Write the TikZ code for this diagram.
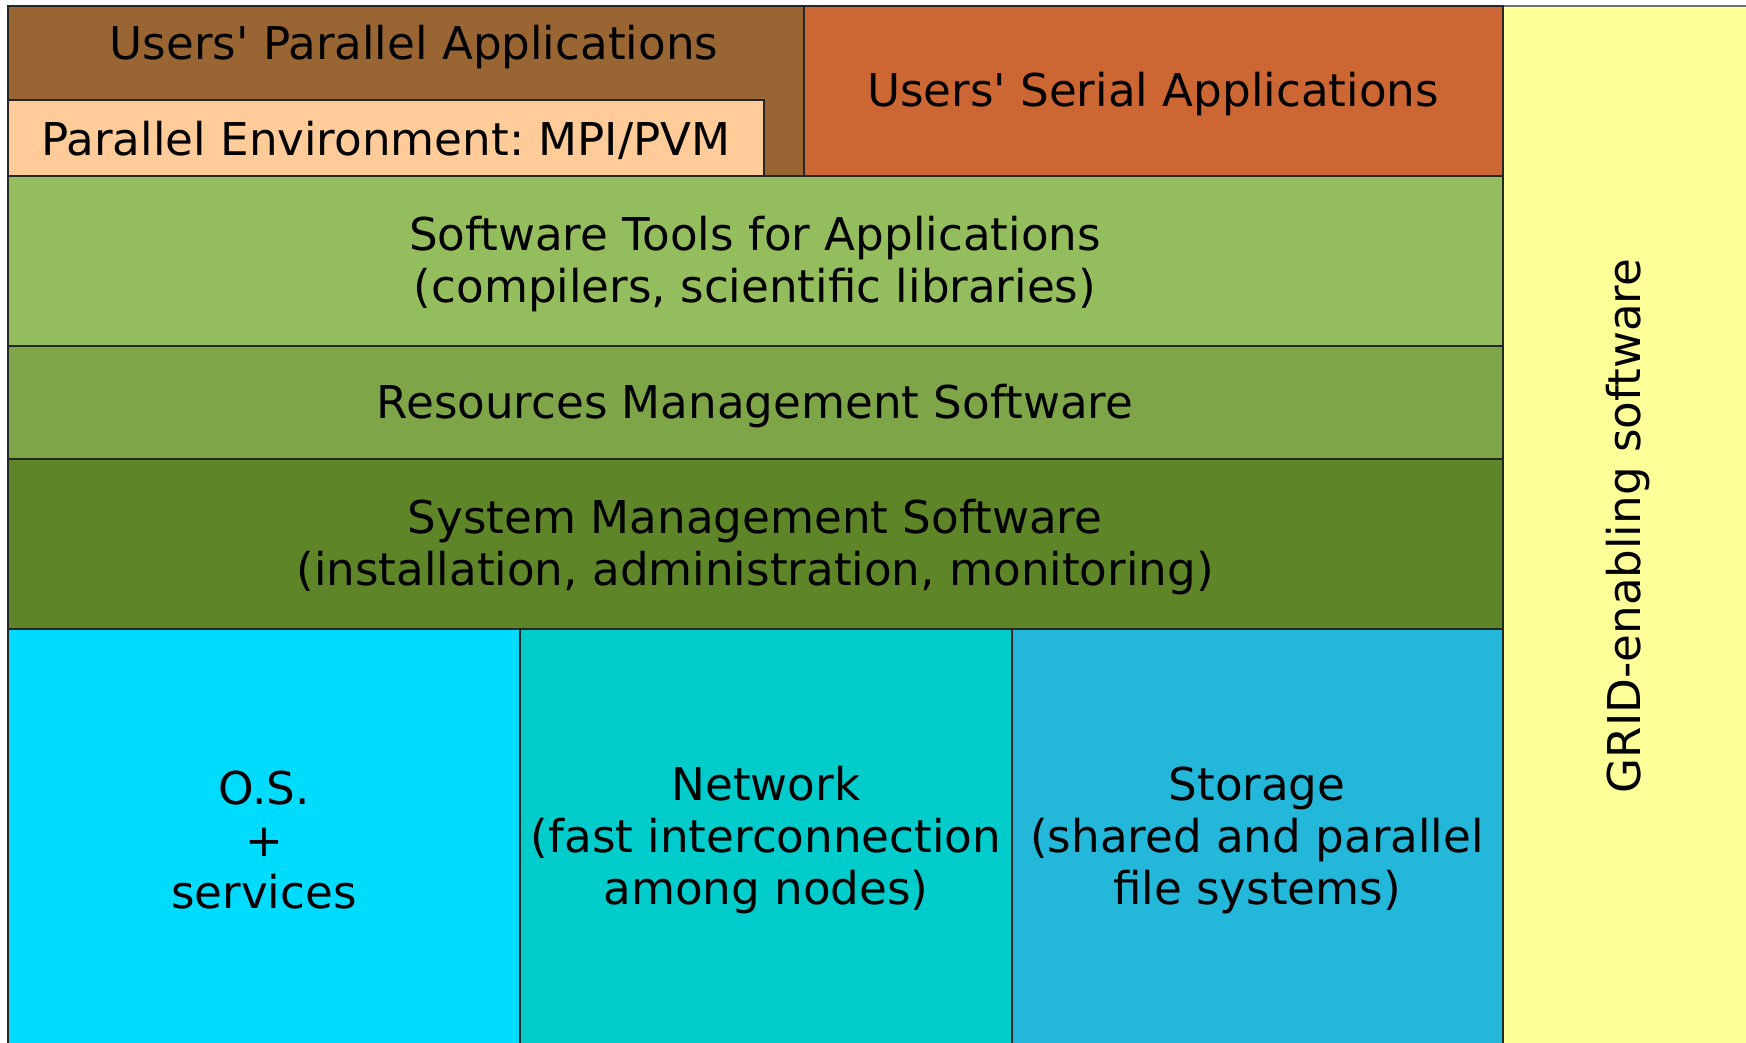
\documentclass[tikz,border=0pt]{standalone}
\usepackage{fontspec}
\newfontfamily\djv{DejaVu Sans}
\definecolor{cbrown}{HTML}{996633}
\definecolor{cpeach}{HTML}{FFCC99}
\definecolor{cserial}{HTML}{CC6633}
\definecolor{cgreenA}{HTML}{94BD5E}
\definecolor{cgreenB}{HTML}{7EA648}
\definecolor{cgreenC}{HTML}{5E8527}
\definecolor{ccyanA}{HTML}{00DCFF}
\definecolor{ccyanB}{HTML}{00CCCC}
\definecolor{ccyanC}{HTML}{23B7DA}
\definecolor{cyellow}{HTML}{FFFF99}
\frenchspacing
\begin{document}
\begin{tikzpicture}[x=0.01cm,y=-0.01cm,
  layer/.style={draw=black!85,line width=0.3pt},
  lbl/.style={font=\djv\frenchspacing\fontsize{12.85}{14.8}\selectfont,align=center,inner sep=0pt}]
\useasboundingbox (0,0) rectangle (1746,1042);
% yellow
\path[layer,fill=cyellow,draw=black!55] (1503,6) rectangle (1760,1060);
% top parts
\path[layer,fill=cbrown] (8,6) rectangle (804,176);
\path[layer,fill=cpeach] (8,100) rectangle (764,176);
\path[layer,fill=cserial] (804,6) rectangle (1503,176);
\path[layer,fill=cgreenA] (8,176) rectangle (1503,346);
\path[layer,fill=cgreenB] (8,346) rectangle (1503,459);
\path[layer,fill=cgreenC] (8,459) rectangle (1503,629);
\path[layer,fill=ccyanA] (8,629) rectangle (520,1060);
\path[layer,fill=ccyanB] (520,629) rectangle (1012,1060);
\path[layer,fill=ccyanC] (1012,629) rectangle (1503,1060);
% labels
\node[lbl] (upa) at (414,47) {Users' Parallel Applications};
\node[lbl] (pe) at (386,140) {Parallel Environment: MPI/PVM};
\node[lbl] (usa) at (1153,94) {Users' Serial Applications};
\node[lbl] (st) at (755,264) {Software Tools for Applications\\(compilers, scientific libraries)};
\node[lbl] (rm) at (755,406) {Resources Management Software};
\node[lbl] (sm) at (755,547) {System Management Software\\(installation, administration, monitoring)};
\node[lbl] (os) at (264,840) {O.S.\\+\\services};
\node[lbl] (net) at (766,840) {Network\\(fast interconnection\\among nodes)};
\node[lbl] (sto) at (1257,840) {Storage\\(shared and parallel\\file systems)};
\node[lbl,rotate=90] (grid) at (1628,526) {GRID-enabling software};
\end{tikzpicture}
\end{document}
